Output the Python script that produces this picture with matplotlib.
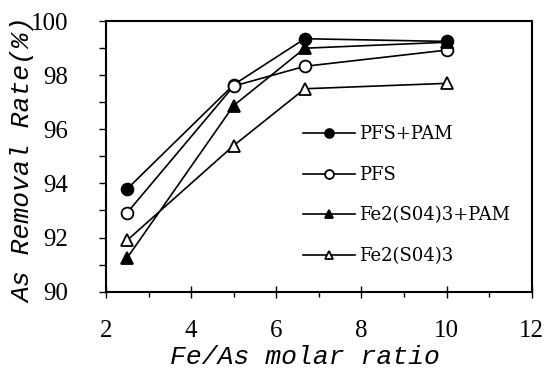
import matplotlib
matplotlib.use('Agg')
import matplotlib.pyplot as plt
from matplotlib.ticker import MultipleLocator

# Fe/As molar ratio
ratio = [2.5, 5, 6.67, 10]

pfs_pam = [93.8, 97.65, 99.35, 99.25]
pfs = [92.92, 97.6, 98.33, 98.93]
fe_pam = [91.25, 96.88, 99.0, 99.22]
fe = [91.9, 95.4, 97.5, 97.7]

labels = ['PFS+PAM', 'PFS', 'Fe2(S04)3+PAM', 'Fe2(S04)3']
markers = ['o', 'o', '^', '^']
fills = ['black', 'white', 'black', 'white']

fig = plt.figure(figsize=(5.46, 3.71), dpi=100)
ax = fig.add_axes([0.194, 0.214, 0.780, 0.729])

for ys, lab, m, fc in zip([pfs_pam, pfs, fe_pam, fe], labels, markers, fills):
    ax.plot(ratio, ys, color='black', lw=1.2, marker=m, ms=8.5,
            mfc=fc, mec='black', mew=1.3, label=lab)

ax.set_xlim(2, 12)
ax.set_ylim(90, 100)
ax.xaxis.set_major_locator(MultipleLocator(2))
ax.xaxis.set_minor_locator(MultipleLocator(1))
ax.yaxis.set_major_locator(MultipleLocator(2))
ax.yaxis.set_minor_locator(MultipleLocator(1))

for s in ax.spines.values():
    s.set_linewidth(1.5)

ax.tick_params(axis='x', which='major', direction='inout', length=9, width=1, pad=16)
ax.tick_params(axis='x', which='minor', direction='out', length=3.5, width=1)
ax.tick_params(axis='y', which='both', direction='out', length=5, width=1, pad=22)
for t in ax.get_xticklabels() + ax.get_yticklabels():
    t.set_fontfamily('Liberation Serif')
    t.set_fontsize(18)

ax.set_xlabel('Fe/As molar ratio', fontfamily='Liberation Mono', style='italic', fontsize=19)
ax.set_ylabel('As Removal Rate(%)', fontfamily='Liberation Mono', style='italic', fontsize=19)
ax.xaxis.set_label_coords(0.467, -0.242)
ax.yaxis.set_label_coords(-0.195, 0.486)
ax.xaxis.label.set_va('center')
ax.yaxis.label.set_va('center')

leg = ax.legend(loc='upper left', bbox_to_anchor=(0.462, 0.615), frameon=False,
                prop={'family': 'DejaVu Serif', 'size': 13},
                handlelength=2.9, handletextpad=0.2, labelspacing=1.25,
                markerscale=0.75, borderpad=0, borderaxespad=0)

fig.savefig('out.png', dpi=100)
